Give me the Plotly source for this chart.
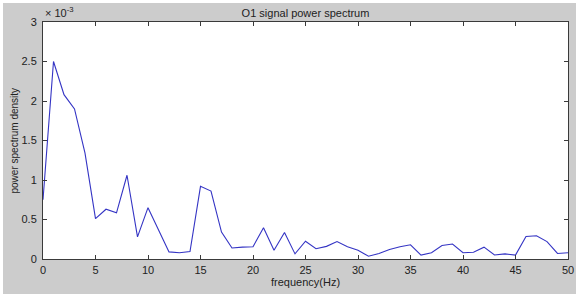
import plotly.graph_objects as go

# frequency (Hz)
freq = list(range(0, 51))
# power spectrum density, in units of 1e-3
psd_e3 = [0.75, 2.50, 2.08, 1.90, 1.34, 0.51, 0.63, 0.585, 1.06, 0.28,
          0.65, 0.37, 0.09, 0.08, 0.095, 0.92, 0.86, 0.34, 0.14, 0.15,
          0.155, 0.395, 0.11, 0.335, 0.065, 0.225, 0.13, 0.16, 0.22, 0.155,
          0.11, 0.035, 0.07, 0.12, 0.155, 0.18, 0.05, 0.08, 0.17, 0.19,
          0.08, 0.085, 0.15, 0.05, 0.065, 0.05, 0.285, 0.295, 0.22, 0.07,
          0.08]

x_ticks = [0, 5, 10, 15, 20, 25, 30, 35, 40, 45, 50]
y_ticks = [0, 0.5, 1, 1.5, 2, 2.5, 3]
y_ticktext = ["0", "0.5", "1", "1.5", "2", "2.5", "3"]

W, H = 576, 294
ML, MR, MT, MB = 43, 8, 22, 35
PW, PH = W - ML - MR, H - MT - MB

font = dict(family="Liberation Sans, Arial, sans-serif", size=11, color="#222222")
axcol = "#3a3a3a"

fig = go.Figure()
fig.add_trace(go.Scatter(x=freq, y=psd_e3, mode="lines",
                         line=dict(color="#3434c4", width=1.1),
                         showlegend=False, hoverinfo="skip"))

fig.update_layout(
    width=W, height=H,
    margin=dict(l=ML, r=MR, t=MT, b=MB, pad=0),
    paper_bgcolor="#cccccc",
    plot_bgcolor="#ffffff",
    font=font,
    title=dict(text="O1 signal power spectrum", x=(ML + PW / 2) / W, xanchor="center",
               y=1 - 13 / H, yanchor="middle", font=dict(size=11, color="#222222")),
    xaxis=dict(range=[0, 50], tickvals=x_ticks, ticks="inside", ticklen=4,
               tickcolor=axcol, showline=True, linecolor=axcol, linewidth=1,
               mirror="ticks", showgrid=False, zeroline=False, automargin=False,
               ticklabelstandoff=1, tickfont=dict(size=11)),
    yaxis=dict(range=[0, 3], tickvals=y_ticks, ticktext=y_ticktext, ticks="inside",
               ticklen=4, tickcolor=axcol, showline=True, linecolor=axcol, linewidth=1,
               mirror="ticks", showgrid=False, zeroline=False, automargin=False,
               ticklabelstandoff=3, tickfont=dict(size=11)),
    annotations=[
        dict(text="× 10<sup>-3</sup>", xref="paper", yref="paper",
             x=0, y=1, xanchor="left", yanchor="bottom", showarrow=False,
             yshift=1, font=dict(size=11, color="#222222")),
        dict(text="frequency(Hz)", xref="paper", yref="paper",
             x=0.5, y=0, xanchor="center", yanchor="middle", yshift=-23,
             showarrow=False, font=dict(size=11, color="#222222")),
        dict(text="power spectrum density", xref="paper", yref="paper",
             x=0, y=0.5, xanchor="center", yanchor="middle", xshift=-(ML - 14),
             textangle=-90, showarrow=False, font=dict(size=10, color="#222222")),
    ],
    shapes=[
        dict(type="rect", xref="paper", yref="paper", layer="below",
             x0=-ML / PW, x1=-(ML - 3) / PW, y0=-MB / PH, y1=1 + MT / PH,
             fillcolor="#ffffff", line=dict(width=0)),
        dict(type="rect", xref="paper", yref="paper", layer="below",
             x0=-ML / PW, x1=1 + MR / PW, y0=1 + (MT - 3) / PH, y1=1 + MT / PH,
             fillcolor="#ffffff", line=dict(width=0)),
    ],
)

fig.write_html("out.html",
               config={"displayModeBar": False},
               post_script="document.body.style.margin='0';"
                           "document.documentElement.style.overflow='hidden';")
